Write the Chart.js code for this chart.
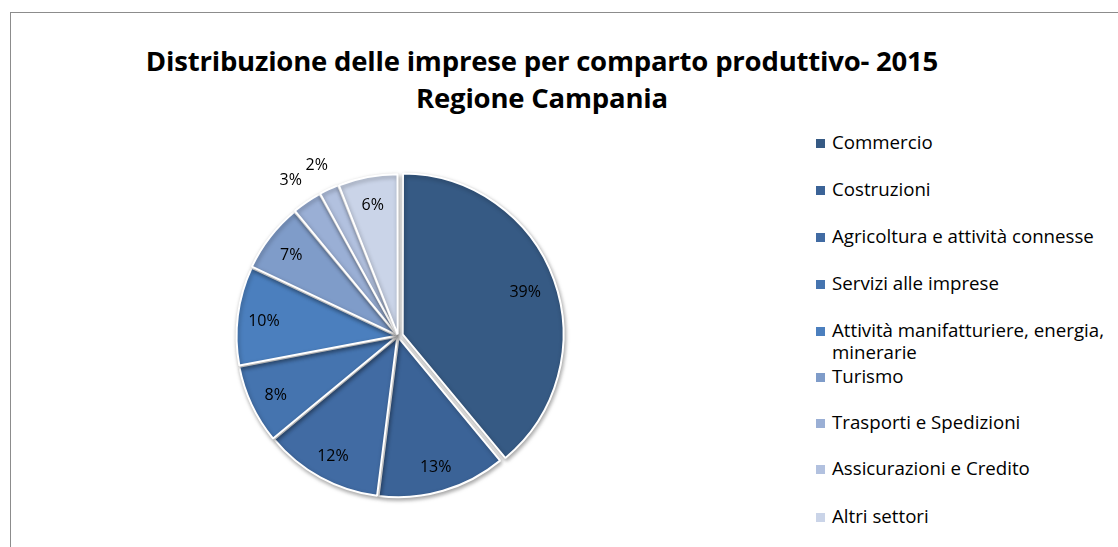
<!DOCTYPE html>
<html>
<head>
<meta charset="utf-8">
<script src="https://cdn.jsdelivr.net/npm/chart.js@4/dist/chart.umd.min.js"></script>
<style>
  html, body { margin:0; padding:0; background:#fff; width:1118px; height:547px; overflow:hidden; }
  #frame { position:absolute; left:10px; top:12px; width:1200px; height:600px; border:1px solid #8c8c8c; box-sizing:border-box; }
  #title { position:absolute; left:0; width:1084px; top:42px; text-align:center; font-family: "Open Sans", sans-serif; font-weight:bold; font-size:27.5px; line-height:37px; color:#000; letter-spacing:-0.2px; }
  #pieBox { position:absolute; left:188px; top:126px; width:420px; height:420px; }
  #legend { position:absolute; left:816px; top:0; font-family: "Open Sans", sans-serif; font-size:18.7px; color:#000; }
  .li { position:absolute; white-space:nowrap; line-height:22px; }
  .sw { position:absolute; left:0; width:9px; height:9px; }
  .tx { position:absolute; left:16px; }
</style>
</head>
<body>
<div id="frame"></div>
<div id="title">Distribuzione delle imprese per comparto produttivo- 2015<br>Regione Campania</div>
<div id="pieBox"><canvas id="c" width="420" height="420"></canvas></div>
<div id="legend"></div>
<script>
const categories = ["Commercio","Costruzioni","Agricoltura e attività connesse","Servizi alle imprese","Attività manifatturiere, energia, minerarie","Turismo","Trasporti e Spedizioni","Assicurazioni e Credito","Altri settori"];
const legendLines = [["Commercio"],["Costruzioni"],["Agricoltura e attività connesse"],["Servizi alle imprese"],["Attività manifatturiere, energia,","minerarie"],["Turismo"],["Trasporti e Spedizioni"],["Assicurazioni e Credito"],["Altri settori"]];
const shares = [39, 13, 12, 8, 10, 7, 3, 2, 6];
const colors = ["#365a84","#3b6397","#416ba3","#4574af","#4b7fbe","#7f9cc9","#9aafd5","#b2c1df","#cad4e8"];
const legendTop = [143, 190, 237, 284, 331, 377, 423, 469, 517];

// legend
const lg = document.getElementById('legend');
categories.forEach((c, i) => {
  const d = document.createElement('div');
  d.className = 'li';
  d.style.top = (legendTop[i] - 12) + 'px';
  const sw = document.createElement('div');
  sw.className = 'sw'; sw.style.background = colors[i]; sw.style.top = '8px';
  const tx = document.createElement('div');
  tx.className = 'tx';
  tx.innerHTML = legendLines[i].join('<br>');
  d.appendChild(sw); d.appendChild(tx);
  lg.appendChild(d);
});

const labelPlugin = {
  id: 'pctLabels',
  afterDatasetsDraw(chart) {
    const ctx = chart.ctx;
    const meta = chart.getDatasetMeta(0);
    ctx.save();
    ctx.font = '16px "Open Sans", sans-serif';
    ctx.fillStyle = '#000';
    ctx.textAlign = 'center';
    ctx.textBaseline = 'middle';
    meta.data.forEach((arc, i) => {
      const p = arc.getProps(['x','y','startAngle','endAngle','outerRadius'], true);
      const mid = (p.startAngle + p.endAngle) / 2;
      const f = shares[i] <= 3 ? 1.2 : 0.85;
      const x = p.x + Math.cos(mid) * p.outerRadius * f;
      const y = p.y + Math.sin(mid) * p.outerRadius * f + 2;
      ctx.fillText(shares[i] + '%', x, y);
    });
    ctx.restore();
  }
};
const shadowPlugin = {
  id: 'shadow',
  beforeDatasetsDraw(chart) {
    const ctx = chart.ctx;
    ctx.save();
    ctx.shadowColor = 'rgba(0,0,0,0.35)';
    ctx.shadowBlur = 4;
    ctx.shadowOffsetX = 1;
    ctx.shadowOffsetY = 2;
  },
  afterDatasetsDraw(chart) {
    chart.ctx.restore();
  }
};

new Chart(document.getElementById('c'), {
  type: 'pie',
  data: {
    labels: categories,
    datasets: [{
      data: shares,
      backgroundColor: colors,
      borderColor: '#ffffff',
      borderWidth: 2,
      offset: [20, 7, 7, 7, 7, 7, 7, 7, 7],
      radius: 159
    }]
  },
  options: {
    responsive: false,
    animation: false,
    plugins: { legend: { display: false }, tooltip: { enabled: false }, title: { display: false } }
  },
  plugins: [shadowPlugin, labelPlugin]
});
</script>
</body>
</html>
